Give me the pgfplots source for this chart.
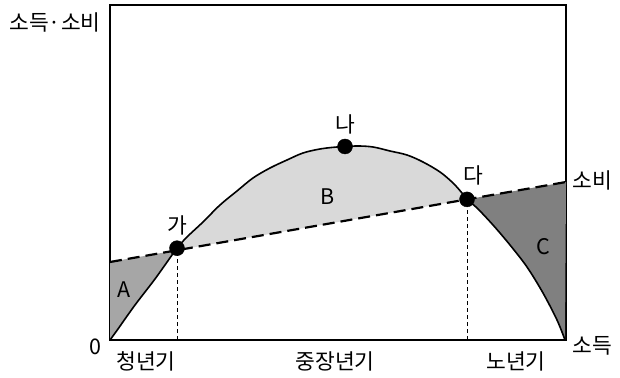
\documentclass[border=0pt]{standalone}
\usepackage{pgfplots}
\pgfplotsset{compat=1.18}
\usepgfplotslibrary{fillbetween}
\usepackage{fontspec}
\setmainfont{Noto Sans CJK KR}
\pgfplotstableread{
x y
0 0
8 11
15 21
25 35
35 48
45 61
55 75
67 91.8
77 103
93 118
110 135
127 149
143 162
160 172
177 180
193 187
210 191
227 193
247 194
263 193
280 189
297 185
313 178
330 168
343 157
352 147
357 140.6
367 132
383 115
400 95
417 73
433 47
447 20
455 0
}\income
\begin{document}
\begin{tikzpicture}[x=1pt,y=1pt]
\begin{axis}[
  scale only axis, width=456pt, height=335pt,
  xmin=0, xmax=456, ymin=0, ymax=335,
  axis line style={line width=2pt},
  xtick=\empty, ytick=\empty,
  clip=false,
  font=\fontsize{21.5}{24}\selectfont,
]
\path (axis cs:-110,-37) rectangle (axis cs:510,340);
\addplot[name path=inc, draw=none, smooth, tension=0.55] table {\income};
\addplot[name path=con, draw=none] coordinates {(0,78) (456,158)};
\addplot[fill=black!35] fill between[of=inc and con, soft clip={domain=0:67}];
\addplot[fill=black!15] fill between[of=inc and con, soft clip={domain=67:357}];
\addplot[fill=black!50] fill between[of=inc and con, soft clip={domain=357:456}];
\addplot[black, line width=1.6pt, smooth, tension=0.55] table {\income};
\addplot[black, line width=2.2pt, dash pattern=on 12pt off 6pt] coordinates {(0,78) (456,158)};
\addplot[black, line width=1pt, dash pattern=on 4pt off 3pt] coordinates {(67,0) (67,91.8)};
\addplot[black, line width=1pt, dash pattern=on 4pt off 3pt] coordinates {(357,0) (357,140.6)};
\addplot[only marks, mark=*, mark size=7.5pt, black] coordinates {(67,91.8) (235,193.5) (357,140.6)};
\node at (axis cs:67,115) {가};
\node at (axis cs:235,216) {나};
\node at (axis cs:363,165) {다};
\node at (axis cs:14,50) {A};
\node at (axis cs:218,143) {B};
\node at (axis cs:433,93) {C};
\node at (axis cs:-15,-7) {0};
\node at (axis cs:36,-21) {청년기};
\node at (axis cs:225,-21) {중장년기};
\node at (axis cs:406,-21) {노년기};
\node at (axis cs:482,-6) {소득};
\node at (axis cs:482,160) {소비};
\node at (axis cs:-55,318) {소득·소비};
\end{axis}
\end{tikzpicture}
\end{document}
